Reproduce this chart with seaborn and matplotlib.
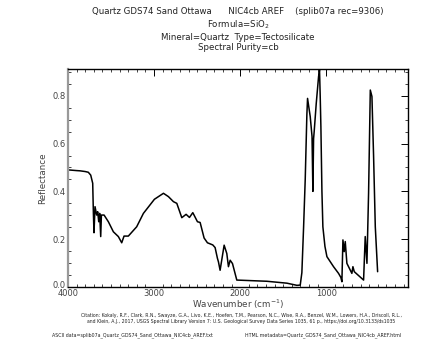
import matplotlib
matplotlib.use("Agg")
import matplotlib.pyplot as plt
import matplotlib.transforms as mtransforms
import seaborn as sns
import numpy as np
import pandas as pd
from matplotlib.ticker import MultipleLocator

wavenumber = [4000, 3900, 3860, 3800, 3764, 3736, 3713, 3705, 3698, 3686, 3667, 3655, 3643,
              3632, 3620, 3612, 3581, 3531, 3473, 3415, 3376, 3349, 3299, 3202, 3124,
              2996, 2891, 2833, 2775, 2736, 2678, 2628, 2589, 2550, 2496, 2465, 2419,
              2380, 2318, 2291, 2264, 2252, 2233, 2186, 2155, 2136, 2116, 2089, 2039,
              1690, 1457, 1341, 1302, 1283, 1263, 1244, 1225, 1217, 1186, 1165, 1155,
              1147, 1140, 1116, 1089, 1078, 1070, 1062, 1050, 1039, 1015, 992, 915,
              857, 830, 818, 806, 791, 779, 760, 702, 690, 674, 566, 547, 527, 508,
              488, 469, 450, 430, 403]
reflectance = [0.490, 0.487, 0.486, 0.483, 0.480, 0.468, 0.434, 0.308, 0.227, 0.336, 0.301,
               0.315, 0.273, 0.308, 0.211, 0.301, 0.301, 0.273, 0.231, 0.211, 0.185,
               0.213, 0.213, 0.252, 0.308, 0.367, 0.392, 0.378, 0.357, 0.350, 0.290,
               0.304, 0.291, 0.311, 0.273, 0.270, 0.205, 0.185, 0.176, 0.165, 0.120,
               0.105, 0.070, 0.175, 0.140, 0.085, 0.112, 0.098, 0.029, 0.024, 0.016,
               0.007, 0.008, 0.060, 0.250, 0.450, 0.720, 0.789, 0.713, 0.630, 0.400,
               0.620, 0.650, 0.768, 0.880, 0.908, 0.800, 0.671, 0.400, 0.252, 0.170,
               0.127, 0.085, 0.057, 0.040, 0.022, 0.197, 0.148, 0.190, 0.099, 0.057,
               0.085, 0.064, 0.029, 0.211, 0.099, 0.392, 0.824, 0.797, 0.550, 0.252,
               0.064]

title_main = "Quartz GDS74 Sand Ottawa      NIC4cb AREF    (splib07a rec=9306)"
title_lines = ["Formula=SiO$_2$", "Mineral=Quartz  Type=Tectosilicate", "Spectral Purity=cb"]
citation1 = ("Citation: Kokaly, R.F., Clark, R.N., Swayze, G.A., Livo, K.E., Hoefen, T.M., "
             "Pearson, N.C., Wise, R.A., Benzel, W.M., Lowers, H.A., Driscoll, R.L.,")
citation2 = ("and Klein, A.J., 2017, USGS Spectral Library Version 7: U.S. Geological Survey "
             "Data Series 1035, 61 p., https://doi.org/10.3133/ds1035")
ascii_txt = "ASCII data=splib07a_Quartz_GDS74_Sand_Ottawa_NIC4cb_AREF.txt"
html_txt = "HTML metadata=Quartz_GDS74_Sand_Ottawa_NIC4cb_AREF.html"

sns.set_style("white")
plt.rcParams['font.family'] = ['DejaVu Sans']

df = pd.DataFrame({"wn": wavenumber, "refl": reflectance})

W, H = 438, 343
fig = plt.figure(figsize=(W / 100, H / 100), dpi=100)
ax = fig.add_axes([68 / W, 1 - 287 / H, (408 - 68) / W, (287 - 69) / H])
sns.lineplot(data=df, x="wn", y="refl", ax=ax, color="black", linewidth=1.1,
             estimator=None, sort=False)

ax.set_xlim(4000, 50)
ax.set_ylim(0, 0.912)
ax.xaxis.set_minor_locator(MultipleLocator(100))
ax.yaxis.set_minor_locator(MultipleLocator(0.05))
ax.set_xticks([4000, 3000, 2000, 1000])
ax.set_xticklabels(["4000", "3000", "2000", "1000"])
ax.set_yticks([0.0, 0.2, 0.4, 0.6, 0.8])
ax.set_yticklabels(["0.0", "0.2", "0.4", "0.6", "0.8"])
ax.tick_params(which="major", direction="in", length=5, width=0.7, top=True, right=True,
               labelsize=6, colors="black", pad=1.5, labelcolor="#444444")
ax.tick_params(which="minor", direction="in", length=2.5, width=0.6, top=True, right=True,
               bottom=True, left=True)
for side in ["top", "bottom", "right"]:
    ax.spines[side].set_color("black")
    ax.spines[side].set_linewidth(1.0)
ax.spines["left"].set_color("#999999")
ax.spines["left"].set_linewidth(1.6)

# nudge the 0.0 label up slightly, as in the reference
fig.canvas.draw()
ylab0 = ax.get_yticklabels()[0]
ylab0.set_transform(ylab0.get_transform() +
                    mtransforms.ScaledTranslation(0, 3 / 100, fig.dpi_scale_trans))
ylab0.set_va("center_baseline")

ax.set_xlabel("Wavenumber (cm$^{-1}$)", fontsize=6.3, color="#444444")
ax.xaxis.set_label_coords(0.5, -(304 - 287) / (287 - 69), transform=ax.transAxes)
ax.xaxis.label.set_va("center")
ax.set_ylabel("Reflectance", fontsize=6.3, color="#444444", labelpad=4)

cx = 238 / W
fig.text(cx, 1 - 12 / H, title_main, ha="center", va="center", fontsize=6.2, color="#222222")
ys = [25, 37, 48]
for t, y in zip(title_lines, ys):
    fig.text(cx, 1 - y / H, t, ha="center", va="center", fontsize=6.2, color="#222222")

fig.text(241 / W, 1 - 316 / H, citation1, ha="center", va="center", fontsize=3.35, color="#222222")
fig.text(241 / W, 1 - 322 / H, citation2, ha="center", va="center", fontsize=3.35, color="#222222")
fig.text(52 / W, 1 - 335 / H, ascii_txt, ha="left", va="center", fontsize=3.4, color="#222222")
fig.text(245 / W, 1 - 335 / H, html_txt, ha="left", va="center", fontsize=3.4, color="#222222")

fig.savefig("out.png", dpi=100, facecolor="white")
